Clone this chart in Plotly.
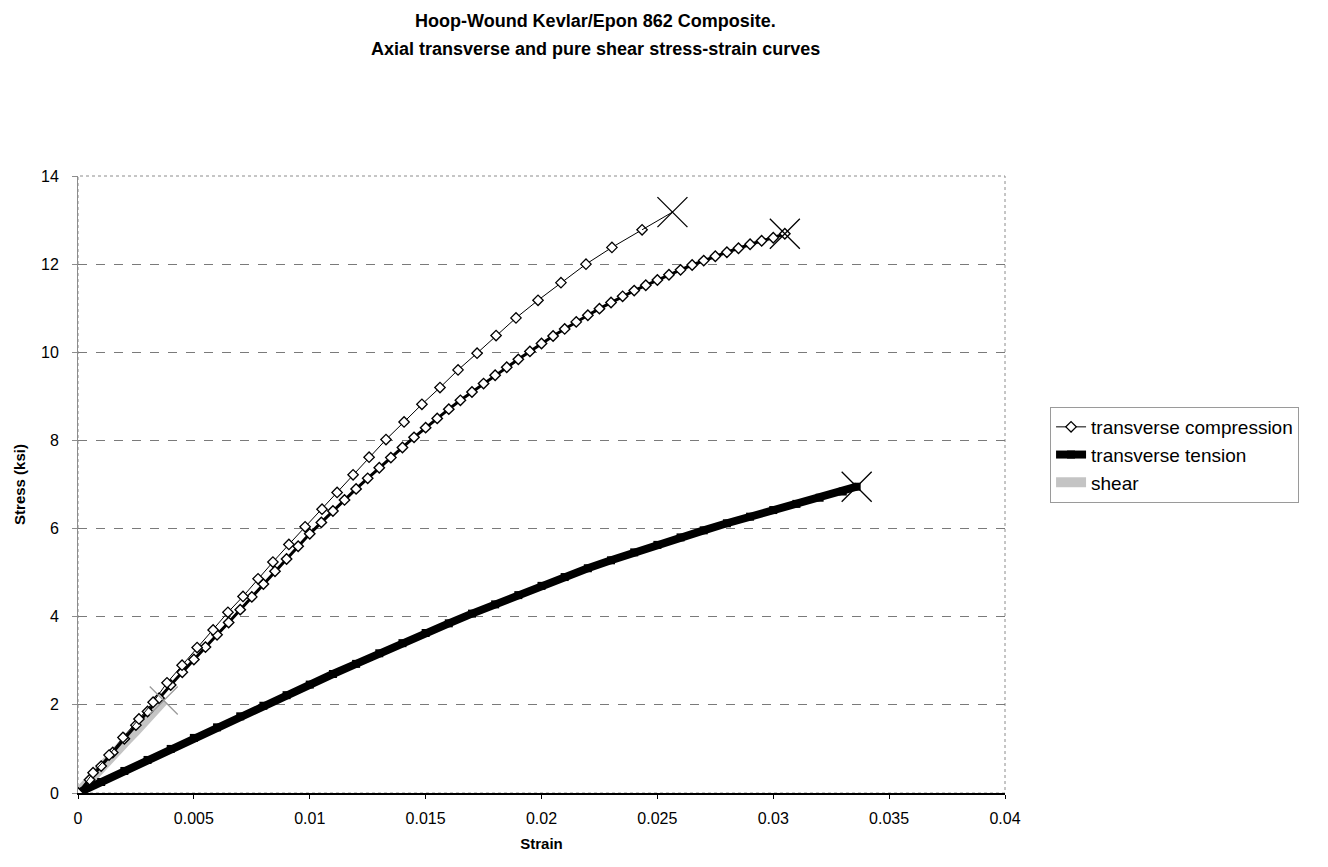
import plotly.graph_objects as go

# ---------------- data ----------------
comp_strain = [0.0, 0.00065, 0.00134, 0.00194, 0.00263, 0.00324, 0.00384, 0.00449, 0.00514,
               0.00583, 0.00647, 0.00712, 0.00777, 0.00841, 0.0091, 0.0098, 0.01053, 0.01118,
               0.01187, 0.01256, 0.01329, 0.01407, 0.01484, 0.01562, 0.0164, 0.01722, 0.01804,
               0.0189, 0.01985, 0.02084, 0.02192, 0.02304, 0.02434, 0.02565]
comp_stress = [0.0, 0.46, 0.86, 1.26, 1.68, 2.06, 2.5, 2.9, 3.3,
               3.7, 4.1, 4.46, 4.86, 5.24, 5.64, 6.04, 6.44, 6.82,
               7.22, 7.62, 8.02, 8.42, 8.82, 9.2, 9.6, 9.98, 10.38,
               10.78, 11.18, 11.58, 12.0, 12.38, 12.78, 13.18]

comp2_strain = [0.0, 0.0005, 0.001, 0.0015, 0.002, 0.0025, 0.003, 0.0035, 0.004, 0.0045,
                0.005, 0.0055, 0.006, 0.0065, 0.007, 0.0075, 0.008, 0.0085, 0.009, 0.0095,
                0.010, 0.0105, 0.011, 0.0115, 0.012, 0.0125, 0.013, 0.0135, 0.014, 0.0145,
                0.015, 0.0155, 0.016, 0.0165, 0.017, 0.0175, 0.018, 0.0185, 0.019, 0.0195,
                0.020, 0.0205, 0.021, 0.0215, 0.022, 0.0225, 0.023, 0.0235, 0.024, 0.0245,
                0.025, 0.0255, 0.026, 0.0265, 0.027, 0.0275, 0.028, 0.0285, 0.029, 0.0295,
                0.030, 0.0305]
comp2_stress = [0.0, 0.30, 0.61, 0.92, 1.23, 1.54, 1.85, 2.15, 2.45, 2.74,
                3.03, 3.31, 3.59, 3.87, 4.16, 4.45, 4.74, 5.03, 5.31, 5.60,
                5.88, 6.14, 6.40, 6.65, 6.90, 7.14, 7.38, 7.61, 7.84, 8.07,
                8.29, 8.50, 8.71, 8.91, 9.10, 9.29, 9.48, 9.66, 9.84, 10.02,
                10.20, 10.37, 10.53, 10.69, 10.84, 10.99, 11.13, 11.27, 11.40, 11.52,
                11.64, 11.76, 11.87, 11.98, 12.08, 12.18, 12.27, 12.36, 12.45, 12.53,
                12.60, 12.69]

tens_strain = [0.0, 0.001, 0.002, 0.003, 0.004, 0.005, 0.006, 0.007, 0.008, 0.009,
               0.010, 0.011, 0.012, 0.013, 0.014, 0.015, 0.016, 0.017, 0.018, 0.019,
               0.020, 0.021, 0.022, 0.023, 0.024, 0.025, 0.026, 0.027, 0.028, 0.029,
               0.030, 0.031, 0.032, 0.033, 0.0336]
tens_stress = [0.0, 0.25, 0.50, 0.75, 1.00, 1.25, 1.49, 1.74, 1.98, 2.22,
               2.46, 2.70, 2.93, 3.17, 3.40, 3.63, 3.85, 4.07, 4.28, 4.49,
               4.70, 4.90, 5.10, 5.28, 5.46, 5.63, 5.80, 5.96, 6.12, 6.27,
               6.42, 6.56, 6.70, 6.84, 6.95]

shear_strain = [0.0, 0.0005, 0.001, 0.0015, 0.002, 0.0025, 0.003, 0.0035, 0.0037]
shear_stress = [0.0, 0.30, 0.58, 0.86, 1.14, 1.41, 1.68, 1.96, 2.10]

x_ticks = [0, 0.005, 0.01, 0.015, 0.02, 0.025, 0.03, 0.035, 0.04]
x_labels = ["0", "0.005", "0.01", "0.015", "0.02", "0.025", "0.03", "0.035", "0.04"]
y_ticks = [0, 2, 4, 6, 8, 10, 12, 14]

title1 = "Hoop-Wound Kevlar/Epon 862 Composite."
title2 = "Axial transverse and pure shear stress-strain curves"

FONT = "Arial, Liberation Sans, Helvetica, sans-serif"

fig = go.Figure()

# gray short curve
fig.add_trace(go.Scatter(
    x=shear_strain, y=shear_stress, mode="lines", name="shear",
    line=dict(color="#c4c4c4", width=10), legendrank=3))

# thick black curve with squares
fig.add_trace(go.Scatter(
    x=tens_strain, y=tens_stress, mode="lines+markers", name="transverse tension",
    line=dict(color="black", width=8),
    marker=dict(symbol="square", size=8, color="black"), legendrank=2))

# dense diamond curve
fig.add_trace(go.Scatter(
    x=comp2_strain, y=comp2_stress, mode="lines+markers", name="transverse compression",
    showlegend=False, legendgroup="comp",
    line=dict(color="black", width=3),
    marker=dict(symbol="diamond", size=8, color="white", line=dict(color="black", width=1.4))))

# sparse diamond curve
fig.add_trace(go.Scatter(
    x=comp_strain[:-1], y=comp_stress[:-1], mode="lines+markers", name="transverse compression",
    legendgroup="comp", legendrank=1,
    line=dict(color="black", width=1),
    marker=dict(symbol="diamond", size=8, color="white", line=dict(color="black", width=1.3))))
fig.add_trace(go.Scatter(
    x=comp_strain[-2:], y=comp_stress[-2:], mode="lines", showlegend=False,
    line=dict(color="black", width=1)))

# failure X markers at end points
fig.add_trace(go.Scatter(
    x=[comp_strain[-1], comp2_strain[-1], tens_strain[-1]],
    y=[comp_stress[-1], comp2_stress[-1], tens_stress[-1]],
    mode="markers", showlegend=False,
    marker=dict(symbol="x-thin", size=30, line=dict(color="black", width=1.3))))
fig.add_trace(go.Scatter(
    x=[shear_strain[-1]], y=[shear_stress[-1]],
    mode="markers", showlegend=False,
    marker=dict(symbol="x-thin", size=28, line=dict(color="#9a9a9a", width=1.3))))

# page body adds an 8px offset; plot area should land at x 78..1005, y 176..793
fig.update_layout(
    width=1320, height=859,
    margin=dict(l=70, r=323, t=168, b=74, autoexpand=False),
    paper_bgcolor="white", plot_bgcolor="white",
    font=dict(family=FONT, size=13, color="black"),
    showlegend=True,
    legend=dict(x=1.0486, y=(793 - 407) / 617, xanchor="left", yanchor="top",
                bordercolor="#9a9a9a", borderwidth=1, bgcolor="white",
                font=dict(family=FONT, size=19), tracegroupgap=0,
                itemwidth=30),
    annotations=[
        dict(text="<b>" + title1 + "</b>", xref="paper", yref="paper", x=0.558, y=(793 - 21) / 617,
             xanchor="center", yanchor="middle", showarrow=False, font=dict(family=FONT, size=18)),
        dict(text="<b>" + title2 + "</b>", xref="paper", yref="paper", x=0.558, y=(793 - 49) / 617,
             xanchor="center", yanchor="middle", showarrow=False, font=dict(family=FONT, size=18)),
    ],
    shapes=[dict(type="rect", xref="paper", yref="paper", x0=0, x1=1, y0=0, y1=1,
                 line=dict(color="#8c8c8c", width=1, dash="dot"), layer="below")],
)

fig.update_xaxes(
    range=[0, 0.04], tickvals=x_ticks, ticktext=x_labels,
    showgrid=False, zeroline=False, automargin=False,
    showline=True, linecolor="black", linewidth=2,
    ticks="outside", ticklen=4, tickcolor="black",
    tickfont=dict(family=FONT, size=16), ticklabelstandoff=6,
    title=dict(text="<b>Strain</b>", font=dict(family=FONT, size=15), standoff=12),
)
fig.update_yaxes(
    range=[0, 14], tickvals=y_ticks, automargin=False,
    showgrid=True, gridcolor="#7a7a7a", griddash="dash", gridwidth=1,
    zeroline=False,
    showline=True, linecolor="#8c8c8c", linewidth=1,
    ticks="outside", ticklen=5, tickcolor="#8c8c8c",
    tickfont=dict(family=FONT, size=16), ticklabelstandoff=10,
    title=dict(text="<b>Stress (ksi)</b>", font=dict(family=FONT, size=15), standoff=11),
)

fig.write_html("out.html")
